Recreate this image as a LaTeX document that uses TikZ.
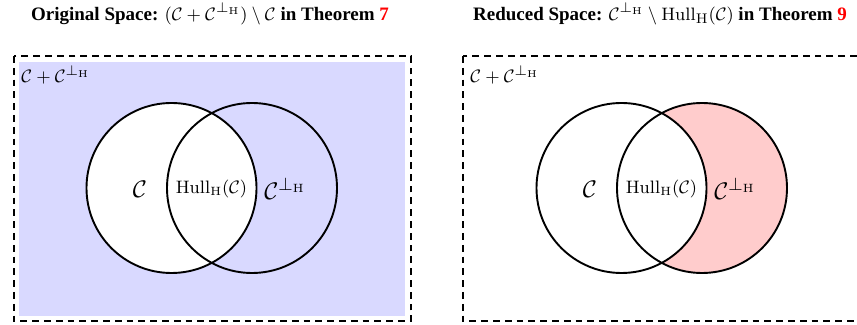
\documentclass[tikz,border=0pt]{standalone}
\usepackage{amsmath}
\usepackage[no-math]{fontspec}
\setmainfont{Liberation Serif}
\tikzset{
  venn/.style={line width=0.95pt},
  frame/.style={line width=1pt,dash pattern=on 3.4pt off 2.5pt},
  biglbl/.style={inner sep=1pt,font=\fontsize{12.5}{14}\selectfont},
  hulllbl/.style={inner sep=1pt,font=\fontsize{8.7}{10}\selectfont},
  cornerlbl/.style={inner sep=1pt,anchor=north west,font=\fontsize{9.3}{10}\selectfont},
  ttl/.style={inner sep=1pt,font=\fontsize{9.5}{11}\selectfont}
}
\newcommand{\Cperp}{\mathcal{C}^{\perp_{\mathrm{H}}}}
\begin{document}
\begin{tikzpicture}[x=0.5pt,y=-0.5pt]
\useasboundingbox (0,0) rectangle (857,325);
% left panel
\fill[blue!15] (19,62) rectangle (405,316);
\fill[white] (171.5,188) circle[radius=85];
\draw[venn] (171.5,188) circle[radius=85];
\draw[venn] (252,188) circle[radius=85];
\draw[frame] (14,56) rectangle (411,321);
\node[cornerlbl] (sumL) at (19,63) {$\mathcal{C}+\Cperp$};
\node[biglbl] (cL) at (140,189) {$\mathcal{C}$};
\node[hulllbl] (hullL) at (211.5,189) {$\mathrm{Hull}_{\mathrm{H}}(\mathcal{C})$};
\node[biglbl] (perpL) at (285,189) {$\Cperp$};
\node[ttl] (titleL) at (210,14) {\textbf{Original Space:} $(\mathcal{C}+\Cperp)\setminus\mathcal{C}$ \textbf{in Theorem \textcolor{red}{7}}};
% right panel
\fill[red!20] (702,188) circle[radius=85];
\fill[white] (621.5,188) circle[radius=85];
\draw[venn] (621.5,188) circle[radius=85];
\draw[venn] (702,188) circle[radius=85];
\draw[frame] (463,56) rectangle (861,321);
\node[cornerlbl] (sumR) at (468,63) {$\mathcal{C}+\Cperp$};
\node[biglbl] (cR) at (590,189) {$\mathcal{C}$};
\node[hulllbl] (hullR) at (661.5,189) {$\mathrm{Hull}_{\mathrm{H}}(\mathcal{C})$};
\node[biglbl] (perpR) at (735,189) {$\Cperp$};
\node[ttl] (titleR) at (660,14) {\textbf{Reduced Space:} $\Cperp\setminus\mathrm{Hull}_{\mathrm{H}}(\mathcal{C})$ \textbf{in Theorem \textcolor{red}{9}}};
\end{tikzpicture}
\end{document}
